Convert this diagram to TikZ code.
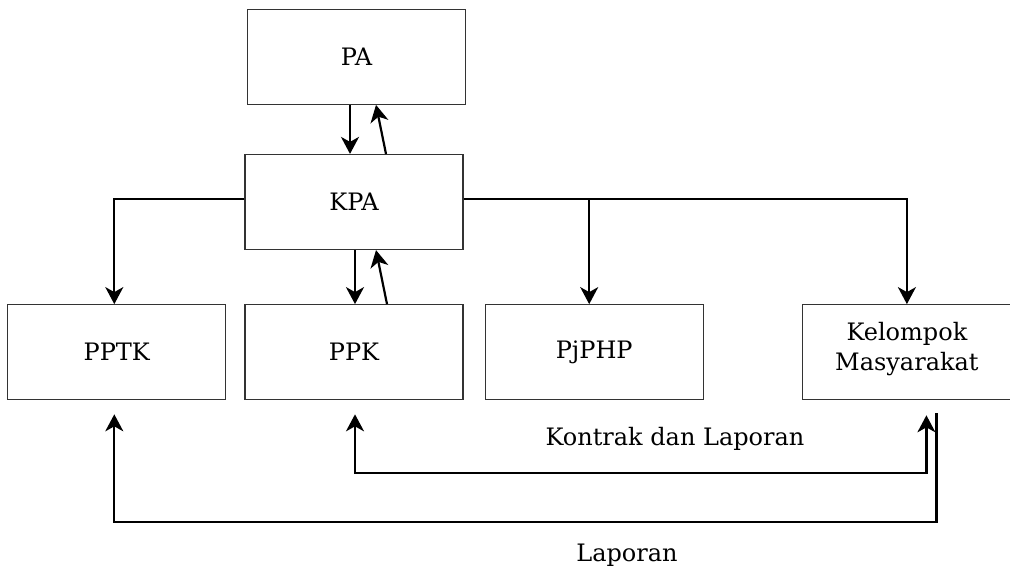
\documentclass[tikz,border=0pt]{standalone}
\usepackage{fontspec}
\setmainfont{DejaVu Serif}
\usepackage{tikz}
\usetikzlibrary{arrows.meta, positioning, calc}

\begin{document}
\begin{tikzpicture}[
      x=0.5pt, y=-0.5pt,
      box/.style  = {draw=black!80, line width=0.6pt, minimum width=109pt,
                     minimum height=47.5pt, align=center, inner sep=2pt,
                     font=\fontsize{12}{15}\selectfont},
      lbl/.style  = {font=\fontsize{12}{15}\selectfont, inner sep=0pt},
      arr/.style  = {-{Stealth[length=8.5pt, width=9pt, inset=2.5pt]}, line width=1.1pt},
      darr/.style = {{Stealth[length=8.5pt, width=9pt, inset=2.5pt]}-{Stealth[length=8.5pt, width=9pt, inset=2.5pt]}, line width=1.1pt}
    ]
    \useasboundingbox (0,0) rectangle (1010,570);

    % ---- TOP: PA and KPA ----
    \node[box] (kpa) at (354,202) {KPA};
    \node[box, above=24.5pt of kpa, xshift=1.25pt] (pa) {PA};

    % ---- ROW: units below KPA ----
    \node[box, below=27pt of kpa]     (ppk)   {PPK};
    \node[box, left=9pt of ppk]       (pptk)  {PPTK};
    \node[box, right=10.5pt of ppk]   (pjphp) {PjPHP};
    \node[box, minimum width=104.5pt, right=49pt of pjphp,
          text depth=6pt] (kelompok) {Kelompok\\Masyarakat};

    % ---- PA <-> KPA ----
    \draw[arr] ([xshift=-3.25pt]pa.south) -- ([xshift=-3.25pt]pa.south |- kpa.north);
    \draw[arr] ([xshift=16pt]kpa.north) -- ([xshift=9.75pt]pa.south);

    % ---- KPA <-> PPK ----
    \draw[arr] ([xshift=0.5pt]kpa.south) -- ([xshift=0.5pt]kpa.south |- ppk.north);
    \draw[arr] ([xshift=16.5pt]ppk.north) -- ([xshift=11pt]kpa.south);

    % ---- KPA branches ----
    \coordinate (kpaL) at ([yshift=1.5pt]kpa.west);
    \coordinate (kpaR) at ([yshift=1.5pt]kpa.east);
    \draw[arr] (kpaL) -| ([xshift=-1.25pt]pptk.north);
    \draw[arr] (kpaR) -| (kelompok.north);
    \draw[arr] ([xshift=-2.5pt]pjphp.north |- kpaR) -- ([xshift=-2.5pt]pjphp.north);

    % ---- Bottom report lines ----
    \coordinate (kontrak) at (640,473);
    \coordinate (laporan) at (640,522);
    \draw[darr] ([xshift=0.5pt, yshift=-7pt]ppk.south) |- (kontrak)
        -| ([xshift=9.75pt, yshift=-7.5pt]kelompok.south);
    \draw[arr] ([xshift=14.75pt, yshift=-6.5pt]kelompok.south) |- (laporan)
        -| ([xshift=-1.25pt, yshift=-7pt]pptk.south);

    \node[lbl] (lblkontrak) at (675,439) {Kontrak dan Laporan};
    \node[lbl] (lbllaporan) at (627,555) {Laporan};

  \end{tikzpicture}
\end{document}
